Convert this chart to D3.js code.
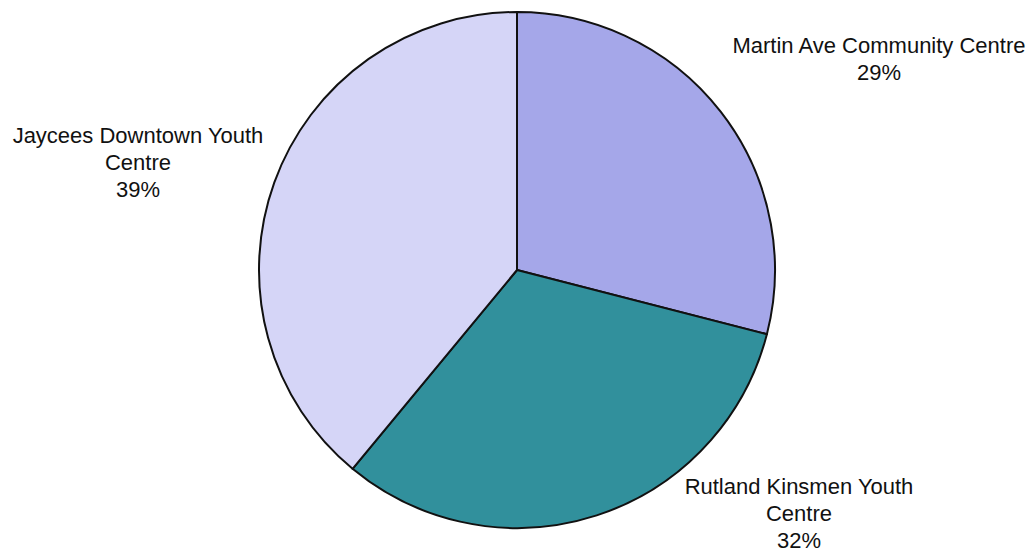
<!DOCTYPE html>
<html><head><meta charset="utf-8">
<script src="https://cdn.jsdelivr.net/npm/d3@7"></script>
<style>body{margin:0;background:#fff}svg{display:block}</style>
</head><body>
<svg id="c" width="1030" height="553"></svg>
<script>
const categories = ["Martin Ave Community Centre", "Rutland Kinsmen Youth Centre", "Jaycees Downtown Youth Centre"];
const values = [29, 32, 39];
const labelLines = [["Martin Ave Community Centre", "29%"], ["Rutland Kinsmen Youth", "Centre", "32%"], ["Jaycees Downtown Youth", "Centre", "39%"]];
const colors = ["#a5a7e9", "#31909c", "#d5d5f7"];

const svg = d3.select("#c");
const cx = 517, cy = 270, r = 258;
const pie = d3.pie().sort(null).value(d => d)(values);
const arc = d3.arc().innerRadius(0).outerRadius(r);
const g = svg.append("g").attr("transform", `translate(${cx},${cy})`);
g.selectAll("path").data(pie).join("path")
  .attr("d", arc).attr("fill", (d, i) => colors[i])
  .attr("stroke", "#111").attr("stroke-width", 2).attr("stroke-linejoin", "round");

const labelPos = [[879, 53], [799, 494], [138, 143]];
const lh = 27;
labelLines.forEach((lines, i) => {
  const t = svg.append("text").attr("text-anchor", "middle")
    .attr("font-family", "Liberation Sans, Arial, sans-serif").attr("font-size", 22).attr("fill", "#111");
  lines.forEach((l, j) => t.append("tspan").attr("x", labelPos[i][0]).attr("y", labelPos[i][1] + j * lh).text(l));
});
</script>
</body></html>
